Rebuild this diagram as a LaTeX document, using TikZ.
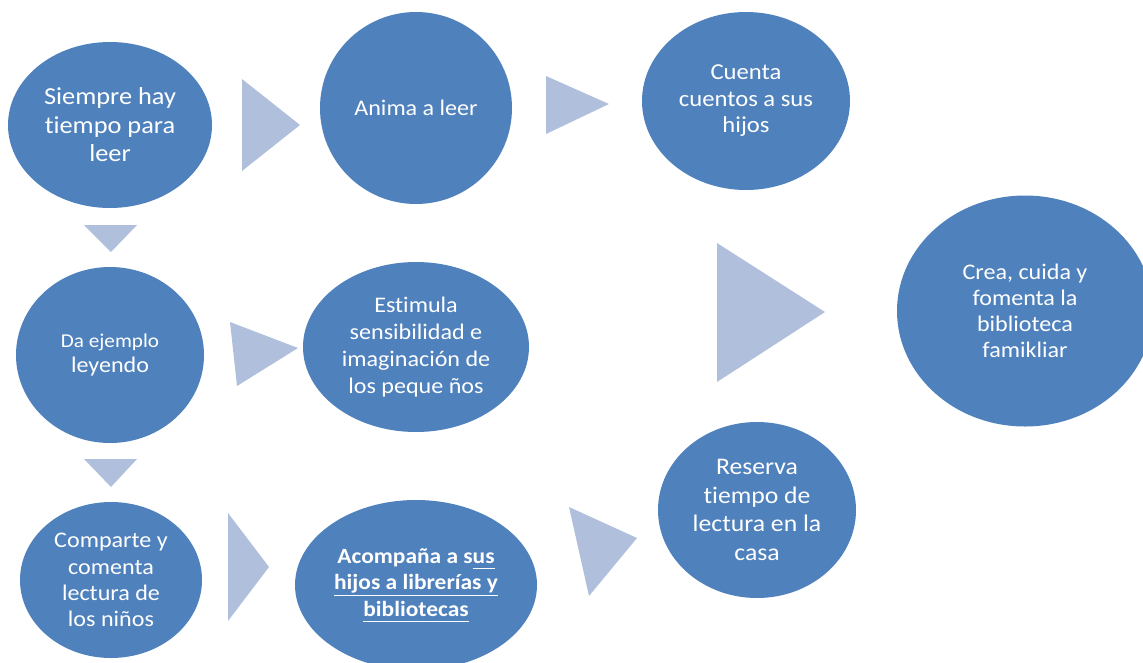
\documentclass[tikz,border=0pt]{standalone}
\usepackage{fontspec}
\setmainfont{Carlito}[FakeStretch=1.08, Ligatures=CommonOff]
\usetikzlibrary{shapes.geometric}
\definecolor{ellblue}{HTML}{4F81BD}
\definecolor{triblue}{HTML}{B0C0DC}
\newcommand\myul[1]{\underline{#1\vphantom{hy}}}
\begin{document}
\begin{tikzpicture}[x=1pt,y=-1pt,
  bubble/.style={ellipse, fill=ellblue, draw=none, inner sep=0pt},
  btext/.style={text=white, align=center, inner sep=0pt},
  arrowtri/.style={fill=triblue, draw=none}]
\useasboundingbox (0,0) rectangle (1143,662);
\begin{scope}
\clip (0,0) rectangle (1143,662);
% ellipses
\node[bubble, minimum width=204pt, minimum height=166pt] (e1) at (110,125) {};
\node[bubble, minimum width=192pt, minimum height=192pt] (e2) at (416,108) {};
\node[bubble, minimum width=208pt, minimum height=178pt] (e3) at (746,101) {};
\node[bubble, minimum width=188pt, minimum height=176pt] (e4) at (110,355) {};
\node[bubble, minimum width=226pt, minimum height=170pt] (e5) at (416,347) {};
\node[bubble, minimum width=182pt, minimum height=156pt] (e6) at (111,580) {};
\node[bubble, minimum width=242pt, minimum height=170pt] (e7) at (416,585) {};
\node[bubble, minimum width=198pt, minimum height=176pt] (e8) at (757,510) {};
\node[bubble, minimum width=256pt, minimum height=231pt] (e9) at (1025,311) {};
\end{scope}
% texts
\node[btext, font=\fontsize{24.4}{28.4}\selectfont] (t1) at (e1) {Siempre hay\\tiempo para\\leer};
\node[btext, font=\fontsize{22.3}{26}\selectfont] (t2) at (e2) {Anima a leer};
\node[btext, font=\fontsize{22.8}{26.5}\selectfont] (t3) at (e3) {Cuenta\\cuentos a sus\\hijos};
\node[btext, font=\fontsize{22.3}{25}\selectfont] (t4) at (e4) {{\fontsize{19.6}{19}\selectfont Da ejemplo}\\leyendo};
\node[btext, font=\fontsize{22.3}{26.7}\selectfont] (t5) at (e5) {Estimula\\sensibilidad e\\imaginación de\\los peque ños};
\node[btext, font=\fontsize{22.3}{26.3}\selectfont] (t6) at (e6) {Comparte y\\comenta\\lectura de\\los niños};
\node[btext, font=\bfseries\fontsize{21.7}{26.5}\selectfont] (t7) at (e7) {Acompaña a s\myul{us}\\\myul{hijos a librerías y}\\\myul{bibliotecas}};
\node[btext, font=\fontsize{23.8}{28.7}\selectfont] (t8) at (e8) {Reserva\\tiempo de\\lectura en la\\casa};
\node[btext, font=\fontsize{22.3}{26}\selectfont] (t9) at (e9) {Crea, cuida y\\fomenta la\\biblioteca\\famikliar};
% triangles
\fill[arrowtri] (242,79) -- (242,171) -- (300,125) -- cycle;
\fill[arrowtri] (546,76) -- (546,134) -- (609,104) -- cycle;
\fill[arrowtri] (84,225) -- (137,225) -- (111,252) -- cycle;
\fill[arrowtri] (230,322) -- (237,386) -- (298,348) -- cycle;
\fill[arrowtri] (717,243) -- (717,382) -- (825,312) -- cycle;
\fill[arrowtri] (84,459) -- (137,459) -- (111,487) -- cycle;
\fill[arrowtri] (228,513) -- (228,621) -- (269,567) -- cycle;
\fill[arrowtri] (569,507) -- (589,596) -- (637,538) -- cycle;
\end{tikzpicture}
\end{document}
